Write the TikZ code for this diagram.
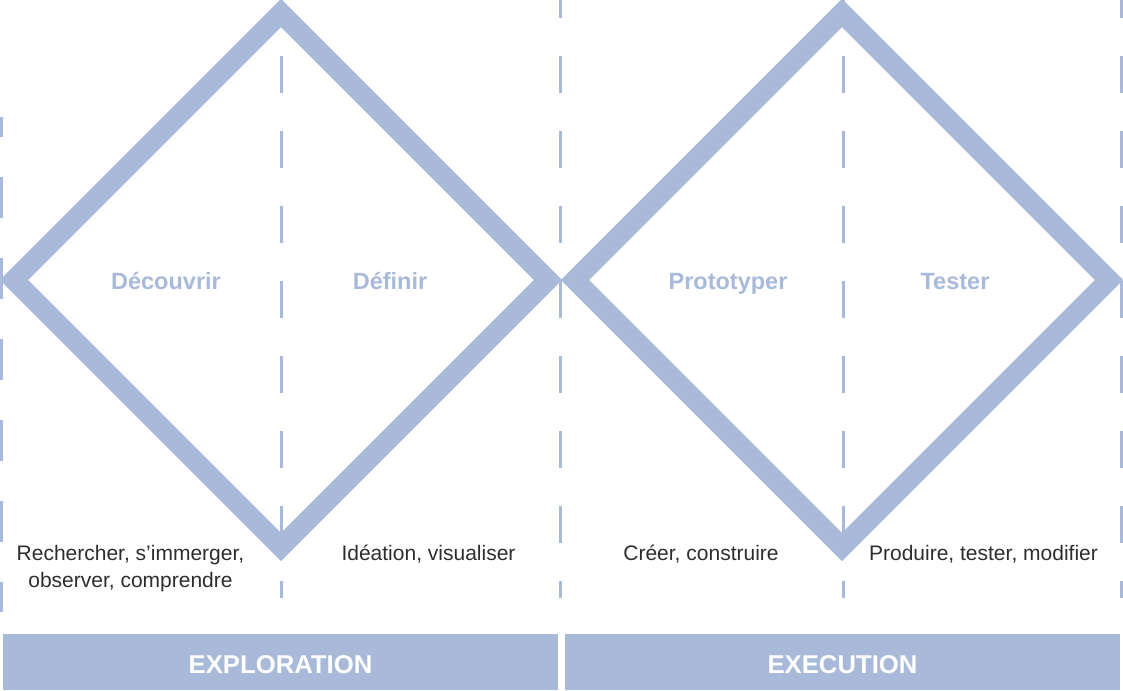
\documentclass[tikz,border=0pt]{standalone}
\usepackage{fontspec}
\setmainfont{Liberation Sans}
\usetikzlibrary{shapes.geometric}

\definecolor{ddblue}{RGB}{168,185,217}
\definecolor{ddtext}{RGB}{45,45,45}

\begin{document}
\begin{tikzpicture}[x=1pt, y=-1pt,
    losange/.style={diamond, draw=ddblue, line width=20pt, minimum width=534pt, minimum height=534pt, inner sep=0pt, outer sep=0pt},
    guide/.style={draw=ddblue, line width=2.7pt, dash pattern=on 37pt off 38pt, dash phase=19pt},
    guideedge/.style={draw=ddblue, line width=2.7pt, dash pattern=on 41pt off 40pt, dash phase=21pt},
    phase/.style={anchor=base, text=ddblue, font=\fontsize{23.5}{28}\selectfont\bfseries},
    action/.style={anchor=base, align=center, text=ddtext, font=\fontsize{21}{27}\selectfont},
    stage/.style={fill=ddblue, text=white, minimum width=555pt, minimum height=56pt, inner sep=0pt, text height=22pt, text depth=0pt, font=\fontsize{25.7}{30}\selectfont\bfseries}]
    \useasboundingbox (0,0) rectangle (1123,690);

    % Diamonds
    \node [losange] (dleft)  at (281,280) {};
    \node [losange] (dright) at (842,280) {};

    % Guides
    \coordinate (g0t) at (1.4,117);    \coordinate (g0b) at (1.4,612);
    \coordinate (g1t) at (281.3,0);    \coordinate (g1b) at (281.3,598);
    \coordinate (g2t) at (560.5,0);    \coordinate (g2b) at (560.5,598);
    \coordinate (g3t) at (843.3,0);    \coordinate (g3b) at (843.3,598);
    \coordinate (g4t) at (1121.6,0);   \coordinate (g4b) at (1121.6,598);
    \path [guideedge] (g0t) -- (g0b);
    \path [guide]     (g1t) -- (g1b);
    \path [guide]     (g2t) -- (g2b);
    \path [guide]     (g3t) -- (g3b);
    \path [guide]     (g4t) -- (g4b);

    % Phases
    \node [phase] (decouvrir)  at (166,289) {Découvrir};
    \node [phase] (definir)    at (390,289) {Définir};
    \node [phase] (prototyper) at (728,289) {Prototyper};
    \node [phase] (tester)     at (955,289) {Tester};

    % Actions
    \node [action] (rechercher) at (130.5,587) {Rechercher, s’immerger,\\observer, comprendre};
    \node [action] (ideation)   at (428.5,560) {Idéation, visualiser};
    \node [action] (creer)      at (701,560)   {Créer, construire};
    \node [action] (produire)   at (983.5,560) {Produire, tester, modifier};

    % Stages
    \node [stage] (exploration) at (280.5,662) {EXPLORATION};
    \node [stage] (execution)   at (842.5,662) {EXECUTION};
\end{tikzpicture}
\end{document}
